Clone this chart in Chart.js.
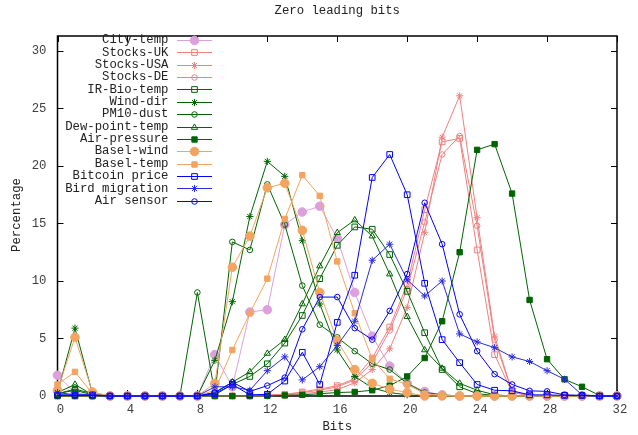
<!DOCTYPE html>
<html><head><meta charset="utf-8">
<script src="https://cdn.jsdelivr.net/npm/chart.js@4/dist/chart.umd.min.js"></script>
<style>html,body{margin:0;padding:0;background:#fff}canvas{display:block}</style>
</head><body>
<canvas id="c" width="638" height="435"></canvas>
<script>
const bits = [0,1,2,3,4,5,6,7,8,9,10,11,12,13,14,15,16,17,18,19,20,21,22,23,24,25,26,27,28,29,30,31,32];
const xTicks = [0,4,8,12,16,20,24,28,32];
const yTicks = [0,5,10,15,20,25,30];

const cityTemp    = [1.8,0.3,0.05,0,0,0,0,0,0,3.6,0.8,7.3,7.5,14.9,16.0,16.5,13.7,9.0,5.2,2.6,1.1,0.4,0.1,0,0,0,0,0,0,0,0,0,0];
const stocksUK    = [0,0,0,0,0,0,0,0,0,0,0,0,0.1,0.15,0.35,0.6,0.9,1.5,3.3,6.0,9.7,16.2,22.1,22.4,12.7,3.6,0.3,0.05,0,0,0,0,0];
const stocksUSA   = [0,0,0,0,0,0,0,0,0,0,0,0,0,0.1,0.2,0.35,0.55,1.15,2.3,4.1,7.7,14.2,22.5,26.1,15.5,5.2,0.4,0.05,0,0,0,0,0];
const stocksDE    = [0,0,0,0,0,0,0,0,0,0,0,0,0,0.1,0.3,0.5,0.8,1.4,2.9,5.7,9.3,15.1,21.0,22.6,14.8,4.9,0.35,0.05,0,0,0,0,0];
const irBioTemp   = [0.2,0.5,0.1,0,0,0,0,0,0,0.1,1.0,1.7,2.8,4.6,7.0,10.2,13.1,14.7,14.5,12.3,9.1,5.5,2.3,0.8,0.2,0.05,0,0,0,0,0,0,0];
const windDir     = [0.3,5.9,0.2,0,0,0,0,0,0,3.1,8.2,15.6,20.4,19.1,13.5,8.0,4.0,1.7,0.7,0.3,0.1,0,0,0,0,0,0,0,0,0,0,0,0];
const pm10Dust    = [0.2,0.6,0.2,0,0,0,0,0,9.0,0.2,13.4,12.7,18.4,14.9,9.6,6.2,5.1,3.9,2.8,2.3,1.1,0.3,0.1,0,0,0,0,0,0,0,0,0,0];
const dewPoint    = [0.3,1.0,0.1,0,0,0,0,0,0,0.3,1.2,2.1,3.7,4.9,8.0,11.3,14.2,15.3,13.9,10.6,6.9,4.0,2.4,1.1,0.5,0.1,0,0,0,0,0,0,0];
const airPressure = [0,0,0,0,0,0,0,0,0,0,0,0,0.02,0.05,0.1,0.2,0.3,0.35,0.5,0.9,1.7,3.3,6.5,12.5,21.4,21.9,17.6,8.35,3.2,1.45,0.8,0.05,0];
const baselWind   = [0.5,5.1,0.35,0,0,0,0,0,0,1.1,11.2,13.9,18.1,18.5,14.4,9.0,4.8,2.3,1.1,0.6,0.3,0,0,0,0,0,0,0,0,0,0,0,0];
const baselTemp   = [1.0,2.1,0.2,0,0,0,0,0,0,0.5,4.0,7.2,10.2,15.4,19.2,17.4,11.7,7.2,3.2,1.5,1.0,0.2,0.05,0,0,0,0,0,0,0,0,0,0];
const bitcoin     = [0.1,0.1,0.1,0,0,0,0,0,0,0.2,1.0,0.1,0.15,1.3,3.8,1.0,6.4,10.5,19.0,21.0,17.5,9.8,4.9,2.9,1.0,0.5,0.45,0.1,0.1,0.05,0.05,0,0];
const birdMigr    = [0.3,0.1,0.1,0,0,0,0,0,0,0.8,0.8,0.5,2.2,3.4,1.4,2.55,4.4,6.5,11.8,13.2,10.1,8.7,10.0,5.4,4.7,4.2,3.4,3.0,2.2,1.45,0.1,0,0];
const airSensor   = [0.05,0.05,0.05,0,0,0,0,0,0,0.3,1.2,0.4,0.9,1.6,5.8,8.6,8.6,5.9,4.9,7.4,10.6,16.8,13.2,7.1,3.9,1.9,1.0,0.45,0.4,0.1,0.05,0,0];

const names = ['City-temp','Stocks-UK','Stocks-USA','Stocks-DE','IR-Bio-temp','Wind-dir','PM10-dust','Dew-point-temp','Air-pressure','Basel-wind','Basel-temp','Bitcoin price','Bird migration','Air sensor'];
const values = [cityTemp,stocksUK,stocksUSA,stocksDE,irBioTemp,windDir,pm10Dust,dewPoint,airPressure,baselWind,baselTemp,bitcoin,birdMigr,airSensor];

const PLUM='#dda0dd', CORAL='#f08080', GREEN='#006400', SANDY='#f4a460', BLUE='#0000ff', BLUE2='#2a2ae0';
const styles = [
  {c:PLUM, pt:'circle', r:4.3, fill:true},
  {c:CORAL, pt:'rect', r:4, fill:false},
  {c:CORAL, pt:'star', r:3.6, fill:false},
  {c:CORAL, pt:'circle', r:2.8, fill:false},
  {c:GREEN, pt:'rect', r:4, fill:false},
  {c:GREEN, pt:'star', r:3.6, fill:false},
  {c:GREEN, pt:'circle', r:2.8, fill:false},
  {c:GREEN, pt:'triangle', r:3.6, fill:false},
  {c:GREEN, pt:'rect', r:3.8, fill:true},
  {c:SANDY, pt:'circle', r:4.3, fill:true},
  {c:SANDY, pt:'rect', r:3.8, fill:true},
  {c:BLUE, pt:'rect', r:4, fill:false},
  {c:BLUE2, pt:'star', r:3.6, fill:false},
  {c:BLUE, pt:'circle', r:2.8, fill:false}
];

const FONT = '"Liberation Mono", "DejaVu Sans Mono", monospace';
const FS = 12.3;

const datasets = names.map((n,i)=>({
  label:n,
  data: values[i].map((v,j)=>({x:bits[j], y:v})),
  borderColor: styles[i].c,
  backgroundColor: styles[i].fill ? styles[i].c : 'rgba(0,0,0,0)',
  borderWidth: 1,
  pointStyle: styles[i].pt,
  pointRadius: styles[i].r,
  pointHoverRadius: styles[i].r,
  pointBorderWidth: 1,
  pointBorderColor: styles[i].c,
  pointBackgroundColor: styles[i].fill ? styles[i].c : 'rgba(0,0,0,0)',
  tension: 0,
  fill: false,
  clip: false,
  order: -i
}));

const gnuplotFrame = {
  id:'gnuplotFrame',
  beforeDatasetsDraw(chart){
    const {ctx, chartArea:a, scales} = chart;
    ctx.save();
    ctx.strokeStyle='#000';
    ctx.lineWidth=1.5;
    ctx.strokeRect(a.left, a.top, a.right-a.left, a.bottom-a.top);
    ctx.lineWidth=1;
    ctx.beginPath();
    const tl=6;
    xTicks.forEach(v=>{const x=Math.round(scales.x.getPixelForValue(v))+0.5; ctx.moveTo(x,a.bottom); ctx.lineTo(x,a.bottom-tl); ctx.moveTo(x,a.top); ctx.lineTo(x,a.top+tl);});
    yTicks.forEach(v=>{const y=Math.round(scales.y.getPixelForValue(v))+0.5; ctx.moveTo(a.left,y); ctx.lineTo(a.left+tl,y); ctx.moveTo(a.right,y); ctx.lineTo(a.right-tl,y);});
    ctx.stroke();
    ctx.restore();
  },
  afterDraw(chart){
    const {ctx, chartArea:a} = chart;
    ctx.save();
    ctx.font = FS+'px '+FONT;
    ctx.fillStyle='#222';
    ctx.textAlign='center'; ctx.textBaseline='middle';
    ctx.fillText('Zero leading bits', (a.left+a.right)/2, 11);
    ctx.fillText('Bits', (a.left+a.right)/2, 427);
    ctx.save();
    ctx.translate(17, 215);
    ctx.rotate(-Math.PI/2);
    ctx.fillText('Percentage', 0, 0);
    ctx.restore();
    // legend
    ctx.textAlign='right';
    names.forEach((n,i)=>{
      const y = 40 + i*12.36;
      const yy = Math.round(y)+0.5;
      ctx.fillStyle='#222';
      ctx.fillText(n, 168.5, y);
      const s = styles[i];
      ctx.strokeStyle = s.c;
      ctx.lineWidth = 1;
      ctx.beginPath(); ctx.moveTo(177, yy); ctx.lineTo(212, yy); ctx.stroke();
      ctx.fillStyle = s.fill ? s.c : 'rgba(0,0,0,0)';
      ctx.strokeStyle = s.c;
      ctx.lineWidth = 1;
      Chart.helpers.drawPoint(ctx, {pointStyle:s.pt, radius:s.r, borderWidth:1, rotation:0}, 194.5, yy);
    });
    ctx.restore();
  }
};

const tickFont = {family: FONT, size: FS};
new Chart(document.getElementById('c'), {
  type:'line',
  data:{datasets},
  options:{
    responsive:false, animation:false, devicePixelRatio:1,
    layout:{padding:{top:36, right:21, left:0, bottom:0}},
    plugins:{legend:{display:false}, title:{display:false}, tooltip:{enabled:false}},
    events:[],
    scales:{
      x:{type:'linear', min:0, max:32,
        afterBuildTicks:s=>{s.ticks = xTicks.map(v=>({value:v}));},
        afterFit:s=>{s.height=39;},
        grid:{display:false, drawTicks:false}, border:{display:false},
        ticks:{font:tickFont, color:'#404040', padding:6, labelOffset:3, maxRotation:0, autoSkip:false}},
      y:{type:'linear', min:0, max:31.3,
        afterBuildTicks:s=>{s.ticks = yTicks.map(v=>({value:v}));},
        afterFit:s=>{s.width=57.5;},
        grid:{display:false, drawTicks:false}, border:{display:false},
        ticks:{font:tickFont, color:'#404040', padding:11, autoSkip:false}}
    }
  },
  plugins:[gnuplotFrame]
});
</script>
</body></html>
